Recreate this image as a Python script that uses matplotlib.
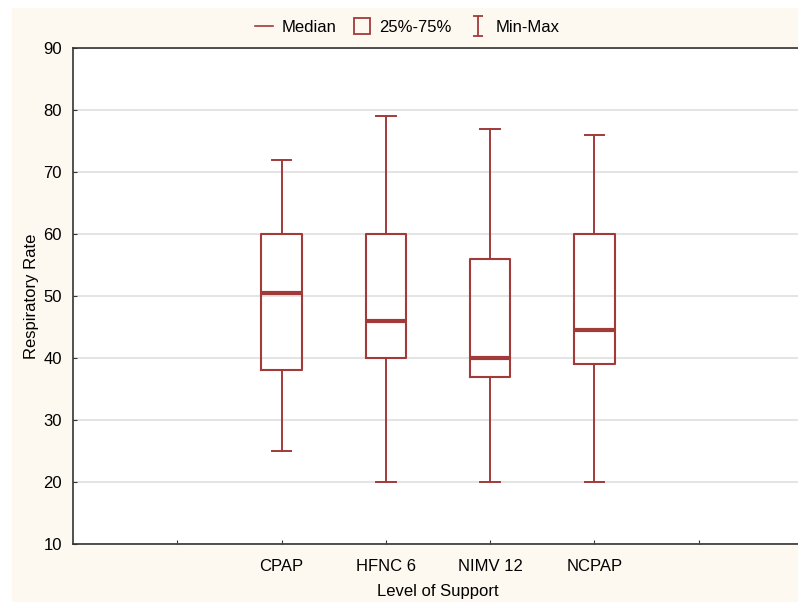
import matplotlib
matplotlib.use('Agg')
import matplotlib.pyplot as plt
from matplotlib.lines import Line2D
from matplotlib.path import Path
from matplotlib.patches import Rectangle

plt.rcParams['font.family'] = ['Liberation Sans', 'DejaVu Sans']

# ── data ──
groups = ['CPAP', 'HFNC 6', 'NIMV 12', 'NCPAP']
mins = [25, 20, 20, 20]
q1 = [38, 40, 37, 39]
medians = [50.5, 46, 40, 44.5]
q3 = [60, 60, 56, 60]
maxs = [72, 79, 77, 76]
tick_labels = ['', 'CPAP', 'HFNC 6', 'NIMV 12', 'NCPAP', '']

RED = '#a23a3a'
CREAM = '#fdf9f0'
FS = 12

fig = plt.figure(figsize=(7.98, 6.02), dpi=100, facecolor='white')
fig.patches.append(Rectangle((12/798, 0), 1, 1 - 8/602, transform=fig.transFigure,
                             facecolor=CREAM, edgecolor='none', zorder=-10))
# right edge of the axes lies just outside the picture, as in the reference
ax = fig.add_axes([73/798, 1 - 544/602, 730/798, 496/602])
ax.set_facecolor('white')

stats = []
for g, lo, a, m, b, hi in zip(groups, mins, q1, medians, q3, maxs):
    stats.append({'label': g, 'whislo': lo, 'q1': a, 'med': m, 'q3': b, 'whishi': hi, 'fliers': []})

ax.bxp(stats, positions=[2, 3, 4, 5], widths=0.39, showfliers=False,
       boxprops=dict(color=RED, lw=1.5),
       medianprops=dict(color=RED, lw=3),
       whiskerprops=dict(color=RED, lw=1.4),
       capprops=dict(color=RED, lw=1.4), capwidths=0.19, zorder=3)

ax.set_xlim(0, 7)
ax.set_ylim(10, 90)
ax.set_xticks([1, 2, 3, 4, 5, 6])
ax.set_xticklabels(tick_labels)
ax.set_yticks(range(10, 100, 10))
ax.yaxis.grid(True, color='#e2e2e2', lw=1.3)
ax.set_axisbelow(True)
ax.tick_params(labelsize=FS, length=3, color='#333333', direction='in', pad=8)
ax.tick_params(axis='x', pad=11)
for s in ax.spines.values():
    s.set_color('#333333')
    s.set_linewidth(1.2)
ax.spines['right'].set_visible(False)
ax.set_xlabel('Level of Support', fontsize=FS, labelpad=7)
ax.set_ylabel('Respiratory Rate', fontsize=FS, labelpad=3)

# legend
ibeam = Path([(-0.5, 1), (0.5, 1), (0, 1), (0, -1), (-0.5, -1), (0.5, -1)],
             [Path.MOVETO, Path.LINETO, Path.MOVETO, Path.LINETO, Path.MOVETO, Path.LINETO])
handles = [
    Line2D([], [], color=RED, lw=1.2),
    Line2D([], [], marker='s', ls='none', markerfacecolor='none', markeredgecolor=RED,
           markersize=12, markeredgewidth=1.3),
    Line2D([], [], marker=ibeam, ls='none', color=RED, markersize=15, markeredgewidth=1.3),
]
fig.legend(handles, ['Median', '25%-75%', 'Min-Max'], loc='center', bbox_to_anchor=(0.51, 1 - 27/602),
           ncol=3, frameon=False, fontsize=FS, handlelength=1.1, handletextpad=0.5,
           columnspacing=1.0)

fig.savefig('out.png', dpi=100, facecolor=fig.get_facecolor())
